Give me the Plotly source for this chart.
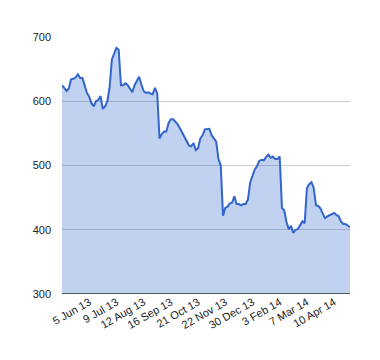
import pandas as pd
import plotly.graph_objects as go

# Closing values (every second trading day, 1 May 2013 - end Apr 2014)
values = [
    625, 621, 616, 620, 634, 635, 637, 642, 636, 636,
    626, 613, 607, 597, 592, 600, 602, 608, 588, 592,
    600, 622, 665, 673, 683, 680, 625, 625, 628, 625,
    619, 614, 625, 632, 638, 626, 616, 613, 614, 612,
    611, 621, 612, 542, 549, 553, 553, 566, 572, 572,
    568, 564, 558, 551, 546, 538, 531, 530, 535, 524,
    527, 542, 547, 556, 557, 557, 547, 541, 537, 510,
    500, 422, 434, 436, 441, 442, 452, 440, 440, 438,
    440, 440, 447, 474, 485, 494, 499, 507, 509, 508,
    513, 517, 512, 514, 510, 510, 514, 434, 430, 412,
    401, 406, 395, 400, 401, 406, 413, 410, 465, 471,
    474, 465, 438, 437, 433, 425, 418, 421, 423, 424,
    426, 423, 421, 413, 409, 409, 406, 404,
]

tick_labels = ["5 Jun 13", "9 Jul 13", "12 Aug 13", "16 Sep 13", "21 Oct 13",
               "22 Nov 13", "30 Dec 13", "3 Feb 14", "7 Mar 14", "10 Apr 14"]
y_ticks = [300, 400, 500, 600, 700]

holidays = ["2013-05-27", "2013-07-04", "2013-09-02", "2013-11-28", "2013-12-25",
            "2014-01-01", "2014-01-20", "2014-02-17", "2014-04-18"]
trading = [d for d in pd.bdate_range("2013-05-01", "2014-06-30")
           if d.strftime("%Y-%m-%d") not in holidays]
dates = [d.strftime("%Y-%m-%d") for d in trading[::2]][:len(values)]
tick_vals = [dates[12 * (j + 1)] for j in range(len(tick_labels))]

fig = go.Figure()
fig.add_trace(go.Scatter(
    x=dates, y=values, mode="lines",
    line=dict(color="#3366cc", width=2),
    fill="tozeroy", fillcolor="rgba(51,102,204,0.3)",
    hoverinfo="x+y",
))

fig.update_layout(
    width=380, height=360,
    margin=dict(l=54, r=38, t=29, b=74, autoexpand=False),
    paper_bgcolor="white", plot_bgcolor="white",
    showlegend=False,
    font=dict(family="Liberation Sans, Arial, sans-serif", size=11, color="#222"),
)
fig.update_xaxes(
    type="category", range=[0, len(dates) - 1],
    tickmode="array", tickvals=tick_vals, ticktext=tick_labels,
    tickangle=-30, showgrid=False, showline=False, zeroline=False,
    ticks="", automargin=False, ticklabelstandoff=-1,
)
fig.update_yaxes(
    range=[300, 700], tickmode="array", tickvals=y_ticks,
    showgrid=True, gridcolor="#cccccc", gridwidth=1,
    zeroline=False, showline=False, ticks="", ticklabelstandoff=10,
    automargin=False,
)
fig.add_shape(type="line", xref="paper", yref="y", x0=0, x1=1, y0=300, y1=300,
              line=dict(color="#555555", width=2))

fig.write_html("out.html")
